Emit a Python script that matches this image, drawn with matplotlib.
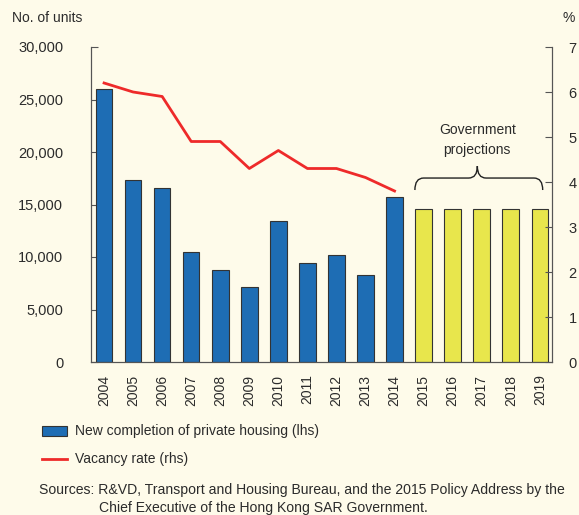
import matplotlib.pyplot as plt
from matplotlib.path import Path
from matplotlib.patches import PathPatch, Patch
from matplotlib.lines import Line2D
import matplotlib.transforms as mtransforms
from matplotlib.ticker import FuncFormatter

plt.rcParams['font.family'] = ['Liberation Sans', 'DejaVu Sans']

years = ['2004', '2005', '2006', '2007', '2008', '2009', '2010', '2011',
         '2012', '2013', '2014', '2015', '2016', '2017', '2018', '2019']
completions = [26036, 17321, 16579, 10471, 8776, 7157, 13405, 9449,
               10149, 8254, 15719, 14600, 14600, 14600, 14600, 14600]
projected = [False] * 11 + [True] * 5
vacancy_years = years[:11]
vacancy = [6.2, 6.0, 5.9, 4.9, 4.9, 4.3, 4.7, 4.3, 4.3, 4.1, 3.8]

bg = '#FEFBEA'
blue = '#1E6DB4'
yellow = '#E8E64C'
red = '#EE2A2A'
txt = '#2b2b2b'

fig = plt.figure(figsize=(5.79, 5.15), dpi=100, facecolor=bg)
ax = fig.add_axes([91 / 579, 1 - 362 / 515, (552 - 91) / 579, (362 - 47) / 515])
ax.set_facecolor(bg)

x = list(range(len(years)))
colors = [yellow if p else blue for p in projected]
ax.bar(x, completions, width=0.57, color=colors, edgecolor='#333333', linewidth=0.8, zorder=2)
ax.set_xlim(-0.45, 15.42)
ax.set_ylim(0, 30000)
ax.set_yticks(range(0, 30001, 5000))
ax.yaxis.set_major_formatter(FuncFormatter(lambda v, p: f'{int(v):,}'))
ax.set_xticks(x)
ax.set_xticklabels(years, rotation=90, fontsize=10, color=txt)
ax.tick_params(axis='x', length=0, pad=9)
ax.tick_params(axis='y', direction='in', length=5, width=0.8, colors='#555555',
               labelcolor=txt, labelsize=10.5, pad=20)
for lbl in ax.get_yticklabels():
    lbl.set_horizontalalignment('right')
ax.spines['top'].set_visible(False)
for s in ['left', 'right', 'bottom']:
    ax.spines[s].set_color('#555555')
    ax.spines[s].set_linewidth(0.8)

ax2 = ax.twinx()
ax2.plot(x[:len(vacancy)], vacancy, color=red, linewidth=2, zorder=3)
ax2.set_ylim(0, 7)
ax2.set_yticks(range(0, 8))
ax2.tick_params(axis='y', direction='in', length=5, width=0.8, colors='#555555',
                labelcolor=txt, labelsize=10.5, pad=12)
ax2.spines['top'].set_visible(False)
for s in ['left', 'right', 'bottom']:
    ax2.spines[s].set_color('#555555')
    ax2.spines[s].set_linewidth(0.8)

# brace over projections
trans = mtransforms.blended_transform_factory(ax.transData, ax.transAxes)
x0, x1, xc = 10.7, 15.1, 12.85
yb, yt, yp = 0.546, 0.584, 0.622
r = 0.3
verts = [(x0, yb), (x0, yt), (x0 + r, yt), (xc - r, yt), (xc, yt), (xc, yp),
         (xc, yt), (xc + r, yt), (x1 - r, yt), (x1, yt), (x1, yb)]
codes = [Path.MOVETO, Path.CURVE3, Path.CURVE3, Path.LINETO, Path.CURVE3, Path.CURVE3,
         Path.CURVE3, Path.CURVE3, Path.LINETO, Path.CURVE3, Path.CURVE3]
ax.add_patch(PathPatch(Path(verts, codes), transform=trans, fill=False,
                       edgecolor='#222222', linewidth=1.0, clip_on=False))
ax.text(xc, 0.705, 'Government\nprojections', transform=trans, ha='center', va='center',
        fontsize=10, color=txt, linespacing=1.5)

fig.text(12 / 579, 1 - 18 / 515, 'No. of units', fontsize=10, color=txt, va='center')
fig.text(575 / 579, 1 - 18 / 515, '%', fontsize=10, color=txt, va='center', ha='right')

handles = [Patch(facecolor=blue, edgecolor='#333333', linewidth=0.8),
           Line2D([0], [0], color=red, linewidth=2)]
labels = ['New completion of private housing (lhs)', 'Vacancy rate (rhs)']
fig.legend(handles, labels, loc='upper left', bbox_to_anchor=(29 / 579, 1 - 412 / 515),
           frameon=False, fontsize=10, labelspacing=1.0, handlelength=1.8,
           handletextpad=0.6, labelcolor=txt)

fig.text(39 / 579, 1 - 490 / 515,
         'Sources: R&VD, Transport and Housing Bureau, and the 2015 Policy Address by the',
         fontsize=10.1, color=txt, va='center')
fig.text(99 / 579, 1 - 508 / 515,
         'Chief Executive of the Hong Kong SAR Government.',
         fontsize=10.1, color=txt, va='center')

fig.savefig('out.png', dpi=100, facecolor=bg)
